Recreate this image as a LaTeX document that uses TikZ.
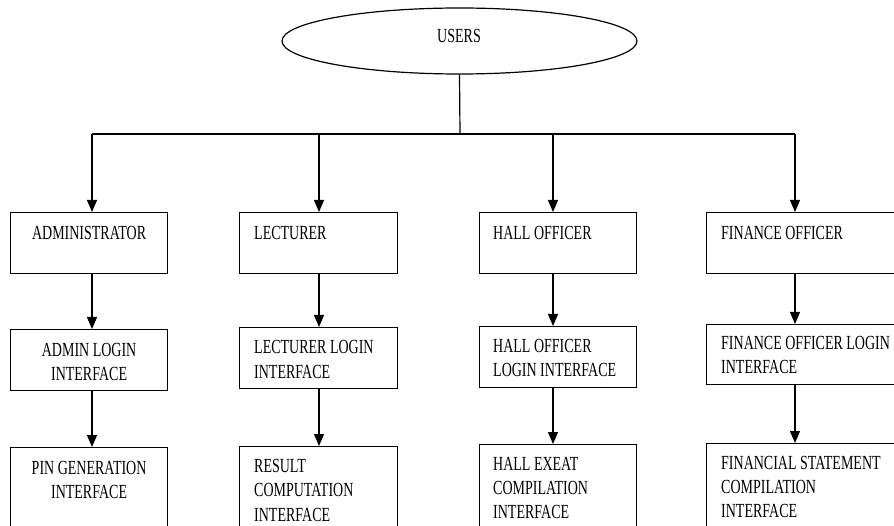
\documentclass[tikz,border=0pt]{standalone}
\usepackage{fontspec}
\newfontfamily\dfont[FakeStretch=0.70]{Liberation Serif}
\usetikzlibrary{shapes.geometric,arrows.meta}
\tikzset{
  boxnode/.style={draw, rectangle, line width=1.2pt, anchor=north west, inner sep=0pt, minimum width=#1},
  boxnode/.default=157pt,
  txt/.style={inner sep=0pt, font=\dfont\fontsize{20}{24.3}\selectfont},
  conn/.style={line width=1.2pt},
  arr/.style={line width=1.2pt, -{Triangle[width=10pt,length=12pt]}}
}
\newcommand{\tl}[1]{\begin{tabular}[t]{@{}l@{}}#1\end{tabular}}
\newcommand{\tc}[1]{\begin{tabular}[t]{@{}c@{}}#1\end{tabular}}
\begin{document}
\begin{tikzpicture}[x=1pt,y=-1pt]
\useasboundingbox (0,0) rectangle (894,526);
\clip (0,0) rectangle (894,526);
% top
\node[draw, ellipse, line width=1.2pt, minimum width=355pt, minimum height=66pt, inner sep=0pt] (u) at (459.5,41) {};
\node[txt, anchor=base] (ut) at (459,42.7) {USERS};
\coordinate (j) at (460,134);
\coordinate (ja) at (92,134);
\coordinate (jl) at (319,134);
\coordinate (jh) at (553,134);
\coordinate (jf) at (795,134);
% boxes
\node[boxnode, minimum height=61pt] (a1) at (10,212) {};
\node[boxnode, minimum height=61pt] (a2) at (10,329) {};
\node[boxnode, minimum height=100pt] (a3) at (10,447) {};
\node[boxnode=158pt, minimum height=61pt] (l1) at (239,212) {};
\node[boxnode=158pt, minimum height=61pt] (l2) at (239,327) {};
\node[boxnode=158pt, minimum height=100pt] (l3) at (239,446) {};
\node[boxnode, minimum height=61pt] (h1) at (479,212) {};
\node[boxnode, minimum height=61pt] (h2) at (479,326) {};
\node[boxnode, minimum height=100pt] (h3) at (479,444) {};
\node[boxnode=200pt, minimum height=61pt] (f1) at (706,212) {};
\node[boxnode=200pt, minimum height=60pt] (f2) at (706,324) {};
\node[boxnode=200pt, minimum height=100pt] (f3) at (706,443) {};
% texts
\node[txt, anchor=base] (a1t) at ([shift={(0,28)}]a1.north) {ADMINISTRATOR};
\node[txt, anchor=base] (a2t) at ([shift={(0,27)}]a2.north) {\tc{ADMIN LOGIN\\INTERFACE}};
\node[txt, anchor=base] (a3t) at ([shift={(0,27)}]a3.north) {\tc{PIN GENERATION\\INTERFACE}};
\node[txt, anchor=base west] (l1t) at ([shift={(15,27.5)}]l1.north west) {LECTURER};
\node[txt, anchor=base west] (l2t) at ([shift={(15,27)}]l2.north west) {\tl{LECTURER LOGIN\\INTERFACE}};
\node[txt, anchor=base west] (l3t) at ([shift={(15,26.5)}]l3.north west) {\tl{RESULT\\COMPUTATION\\INTERFACE}};
\node[txt, anchor=base west] (h1t) at ([shift={(14,27.5)}]h1.north west) {HALL OFFICER};
\node[txt, anchor=base west] (h2t) at ([shift={(14,26.7)}]h2.north west) {\tl{HALL OFFICER\\LOGIN INTERFACE}};
\node[txt, anchor=base west] (h3t) at ([shift={(14,26)}]h3.north west) {\tl{HALL EXEAT\\COMPILATION\\INTERFACE}};
\node[txt, anchor=base west] (f1t) at ([shift={(15,27.5)}]f1.north west) {FINANCE OFFICER};
\node[txt, anchor=base west] (f2t) at ([shift={(15,25.5)}]f2.north west) {\tl{FINANCE OFFICER LOGIN\\INTERFACE}};
\node[txt, anchor=base west] (f3t) at ([shift={(15,26.3)}]f3.north west) {\tl{FINANCIAL STATEMENT\\COMPILATION\\INTERFACE}};
% connectors
\draw[conn] (u.south) -- (j);
\draw[conn] (ja) -- (jf);
\draw[arr] (ja) -- (ja |- a1.north);
\draw[arr] (jl) -- (jl |- l1.north);
\draw[arr] (jh) -- (jh |- h1.north);
\draw[arr] (jf) -- (jf |- f1.north);
\draw[arr] (ja |- a1.south) -- (ja |- a2.north);
\draw[arr] (ja |- a2.south) -- (ja |- a3.north);
\draw[arr] (jl |- l1.south) -- (jl |- l2.north);
\draw[arr] (jl |- l2.south) -- (jl |- l3.north);
\draw[arr] (jh |- h1.south) -- (jh |- h2.north);
\draw[arr] (jh |- h2.south) -- (jh |- h3.north);
\draw[arr] (jf |- f1.south) -- (jf |- f2.north);
\draw[arr] (jf |- f2.south) -- (jf |- f3.north);
\end{tikzpicture}
\end{document}
